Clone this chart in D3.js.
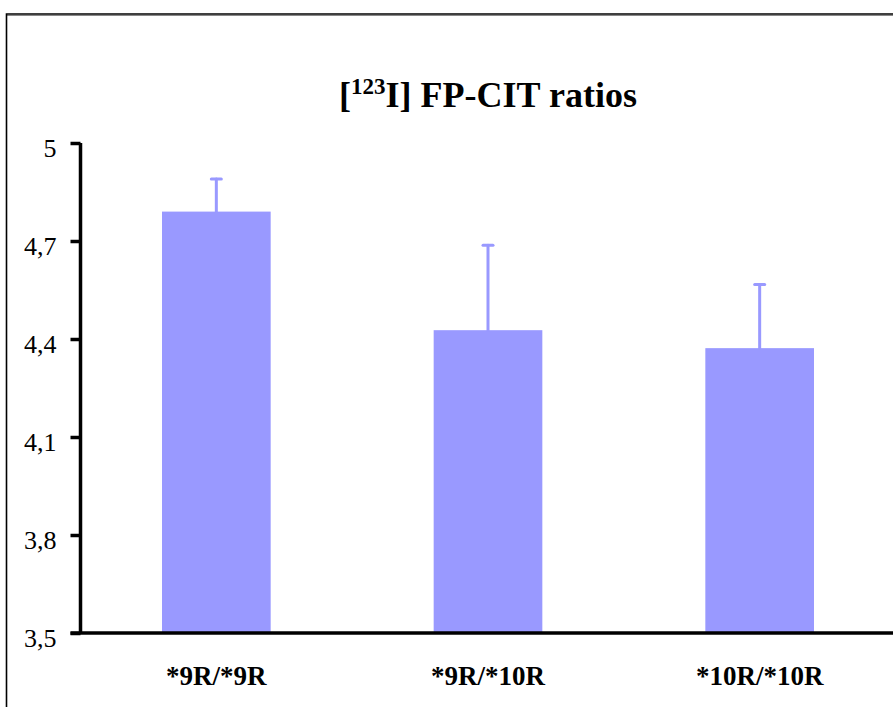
<!DOCTYPE html>
<html lang="en">
    <head>
        <meta charset="utf-8">
        <title>[123I] FP-CIT ratios</title>
        <script src="https://d3js.org/d3.v7.min.js"></script>
        <style type="text/css">
        body { margin: 0; background: #fff; }
        svg text { font-family: "Liberation Serif", "Times New Roman", Times, serif; }
        </style>
    </head>
    <body>
        <script type="text/javascript">

//1. data
const genotypes = ["*9R/*9R", "*9R/*10R", "*10R/*10R"];
const ratioMeans = [4.79, 4.427, 4.372];
const ratioUpper = [4.89, 4.687, 4.567];
const yTicks = [3.5, 3.8, 4.1, 4.4, 4.7, 5];

//2. sizes
const svgWidth = 893;
const svgHeight = 707;
const plotLeft = 80.5;
const plotRight = 895.5;
const plotTop = 143;
const plotBottom = 633;
const barColor = "#9999ff";

//3. scales
const xScale = d3.scaleBand()
                .domain(genotypes)
                .range([plotLeft, plotRight])
                .paddingInner(0.6)
                .paddingOuter(0.3);

const yScale = d3.scaleLinear()
                .domain([3.5, 5])
                .range([plotBottom, plotTop]);

//4. svg
const svg = d3.select("body")
                .append("svg")
                .attr("width", svgWidth)
                .attr("height", svgHeight);

svg.append("rect")
    .attr("width", svgWidth)
    .attr("height", svgHeight)
    .attr("fill", "#fff");

// frame (cut off right and bottom)
svg.append("line")
    .attr("x1", 7).attr("x2", svgWidth)
    .attr("y1", 15.5).attr("y2", 15.5)
    .attr("stroke", "#888").attr("stroke-width", 1.2);
svg.append("path")
    .attr("d", "M6.5," + svgHeight + "V14H" + svgWidth)
    .attr("fill", "none")
    .attr("stroke", "#000")
    .attr("stroke-width", 1.6);

//5. bars
svg.selectAll(null)
    .data(genotypes)
    .enter()
    .append("rect")
    .attr("x", d => xScale(d))
    .attr("y", (d, i) => yScale(ratioMeans[i]))
    .attr("width", xScale.bandwidth())
    .attr("height", (d, i) => plotBottom - yScale(ratioMeans[i]))
    .attr("fill", barColor);

// error bars (upper only)
const errG = svg.append("g")
    .attr("stroke", barColor)
    .attr("stroke-linecap", "round");

errG.selectAll(null)
    .data(genotypes)
    .enter()
    .append("line")
    .attr("x1", d => xScale(d) + xScale.bandwidth() / 2)
    .attr("x2", d => xScale(d) + xScale.bandwidth() / 2)
    .attr("y1", (d, i) => yScale(ratioMeans[i]))
    .attr("y2", (d, i) => yScale(ratioUpper[i]))
    .attr("stroke-width", 3);

errG.selectAll(null)
    .data(genotypes)
    .enter()
    .append("line")
    .attr("x1", d => xScale(d) + xScale.bandwidth() / 2 - 5)
    .attr("x2", d => xScale(d) + xScale.bandwidth() / 2 + 5)
    .attr("y1", (d, i) => yScale(ratioUpper[i]))
    .attr("y2", (d, i) => yScale(ratioUpper[i]))
    .attr("stroke-width", 3);

//6. axes
const leftAxis = d3.axisLeft(yScale)
                    .tickValues(yTicks)
                    .tickSize(10)
                    .tickPadding(14)
                    .tickFormat(d => d3.format(".1~f")(d).replace(".", ","));

const yAxisG = svg.append("g")
    .attr("transform", "translate(" + plotLeft + ",0)")
    .call(leftAxis);

yAxisG.select(".domain")
    .attr("d", "M0," + plotTop + "V" + plotBottom)
    .attr("stroke-width", 3.5);
yAxisG.selectAll(".tick line").attr("stroke-width", 3.5);
yAxisG.selectAll(".tick text")
    .attr("font-size", "26px")
    .attr("fill", "#000")
    .attr("dy", "0.5em");

const bottomAxis = d3.axisBottom(xScale)
                    .tickSize(0)
                    .tickPadding(33);

const xAxisG = svg.append("g")
    .attr("transform", "translate(0," + plotBottom + ")")
    .call(bottomAxis);

xAxisG.select(".domain")
    .attr("d", "M" + (plotLeft - 10) + ",0H" + svgWidth)
    .attr("stroke-width", 3.5);
xAxisG.selectAll(".tick text")
    .attr("font-size", "27px")
    .attr("font-weight", "bold")
    .attr("fill", "#000");

//7. title
const title = svg.append("text")
    .attr("x", 488)
    .attr("y", 107)
    .attr("text-anchor", "middle")
    .attr("font-weight", "bold")
    .attr("font-size", "36px")
    .attr("fill", "#000");

title.append("tspan").text("[");
title.append("tspan").attr("font-size", "23px").attr("dy", -13).text("123");
title.append("tspan").attr("dy", 13).text("I] FP-CIT ratios");

</script>
    </body>
</html>
